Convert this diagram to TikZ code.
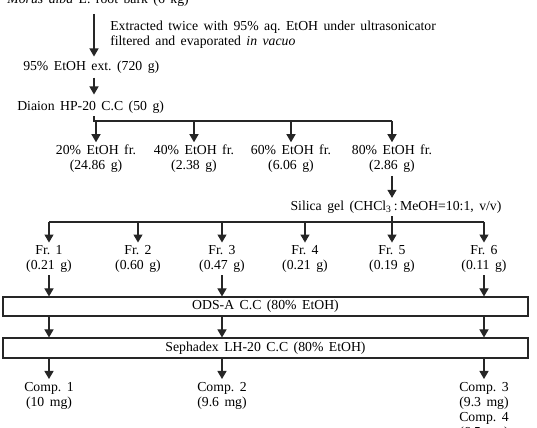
\documentclass[tikz,border=0pt]{standalone}
\usepackage{fontspec}
\setmainfont{Liberation Serif}[WordSpace=1.6]
\usetikzlibrary{arrows.meta}
\frenchspacing
\begin{document}
\begin{tikzpicture}[x=0.75pt,y=-0.75pt,
  txt/.style={font=\fontsize{10.3pt}{11.3pt}\selectfont, inner sep=2pt, align=center},
  conn/.style={line width=0.8pt, draw=black!85},
  arr/.style={conn, -{Triangle[width=6.8pt,length=6pt]}},
  box/.style={draw=black!85, line width=0.8pt, inner sep=0pt,
    font=\fontsize{10.3pt}{11.3pt}\selectfont,
    minimum width=393.75pt}
]
\useasboundingbox (0,0) rectangle (537,428);
\clip (0,0) rectangle (537,428);

% column coordinates
\coordinate (colA) at (94,0);
\coordinate (j1) at (94,121);
\coordinate (j2) at (0,222);

% top part
\node[txt, anchor=base east, inner sep=0pt] (src) at (189,4) {\textit{Morus alba} L. root bark (6 kg)};
\node[txt, anchor=west, align=left, inner sep=0pt] (proc) at (110,35)
  {Extracted twice with 95\% aq. EtOH under ultrasonicator\\filtered and evaporated \textit{in vacuo}};
\node[txt, anchor=west, inner sep=0pt] (ext) at (23,67) {95\% EtOH ext. (720 g)};
\node[txt, anchor=west, inner sep=0pt] (dia) at (17,107) {Diaion HP-20 C.C (50 g)};

\draw[arr] ([yshift=-5pt]src.south -| colA) -- ([yshift=3pt]ext.north -| colA);
\draw[arr] ([yshift=-3pt]ext.south -| colA) -- ([yshift=4.5pt]dia.north -| colA);

% fractions
\node[txt] (f20) at (96,159) {20\% EtOH fr.\\(24.86 g)};
\node[txt] (f40) at (194,159) {40\% EtOH fr.\\(2.38 g)};
\node[txt] (f60) at (291,159) {60\% EtOH fr.\\(6.06 g)};
\node[txt] (f80) at (392,159) {80\% EtOH fr.\\(2.86 g)};

\draw[conn] ([yshift=-2pt]dia.south -| colA) -- (j1) -- (j1 -| f80);
\draw[arr] (j1 -| f20) -- (f20.north);
\draw[arr] (j1 -| f40) -- (f40.north);
\draw[arr] (j1 -| f60) -- (f60.north);
\draw[arr] (j1 -| f80) -- (f80.north);

% silica gel
\node[txt] (sil) at (396,207) {Silica gel (CHCl\textsubscript{3}\,:\,MeOH=10:1, v/v)};
\draw[arr] (f80.south) -- (sil.north -| f80);

% Fr. 1-6
\node[txt] (fr1) at (49,259) {Fr. 1\\(0.21 g)};
\node[txt] (fr2) at (138,259) {Fr. 2\\(0.60 g)};
\node[txt] (fr3) at (222,259) {Fr. 3\\(0.47 g)};
\node[txt] (fr4) at (305,259) {Fr. 4\\(0.21 g)};
\node[txt] (fr5) at (392,259) {Fr. 5\\(0.19 g)};
\node[txt] (fr6) at (484,259) {Fr. 6\\(0.11 g)};

\draw[conn] (j2 -| fr1) -- (j2 -| fr6);
\draw[arr] (j2 -| fr1) -- (fr1.north);
\draw[arr] (j2 -| fr2) -- (fr2.north);
\draw[arr] (j2 -| fr3) -- (fr3.north);
\draw[arr] (j2 -| fr4) -- (fr4.north);
\draw[arr] (j2 -| fr6) -- (fr6.north);
\draw[arr] (sil.south -| fr5) -- (fr5.north);

% ODS-A
\node[box, minimum height=14.25pt] (ods) at (265.5,306.5) {ODS-A C.C (80\% EtOH)};
\draw[arr] (fr1.south) -- (ods.north -| fr1);
\draw[arr] (fr3.south) -- (ods.north -| fr3);
\draw[arr] (fr6.south) -- (ods.north -| fr6);

% Sephadex
\node[box, minimum height=15pt] (sep) at (265.5,348) {Sephadex LH-20 C.C (80\% EtOH)};
\draw[arr] (ods.south -| fr1) -- (sep.north -| fr1);
\draw[arr] (ods.south -| fr3) -- (sep.north -| fr3);
\draw[arr] (ods.south -| fr6) -- (sep.north -| fr6);

% compounds
\node[txt, anchor=north] (cp1) at (49,379) {Comp. 1\\(10 mg)};
\node[txt, anchor=north] (cp2) at (222,379) {Comp. 2\\(9.6 mg)};
\node[txt, anchor=north] (cp3) at (484,379) {Comp. 3\\(9.3 mg)\\Comp. 4\\(6.5 mg)};
\draw[arr] (sep.south -| cp1) -- (cp1.north);
\draw[arr] (sep.south -| cp2) -- (cp2.north);
\draw[arr] (sep.south -| cp3) -- (cp3.north);
\end{tikzpicture}
\end{document}
